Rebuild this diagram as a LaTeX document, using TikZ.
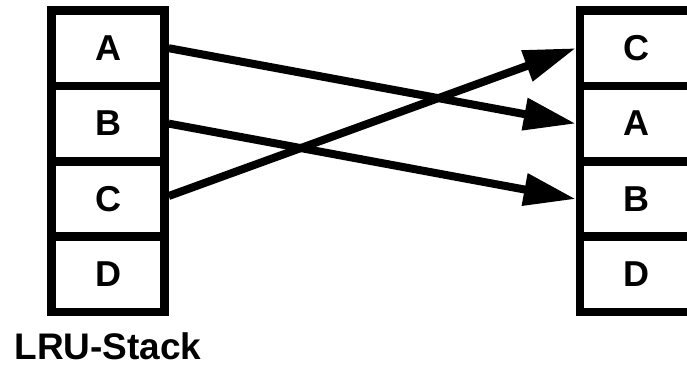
\documentclass[tikz,border=0pt]{standalone}
\usepackage{fontspec}
\setmainfont{Liberation Sans}
\usetikzlibrary{arrows.meta}
\newcommand{\celltext}[1]{\raisebox{-2pt}{#1}}
\begin{document}
\begin{tikzpicture}[x=1pt,y=-1pt,
  cell/.style={draw,line width=8.5pt,minimum width=113pt,minimum height=75.4pt,
    inner sep=0pt,font=\bfseries\fontsize{36}{40}\selectfont},
  link/.style={line width=8pt,-{Triangle[length=52pt,width=31pt]}}]
\useasboundingbox (0,0) rectangle (687,365);
\clip (0,0) rectangle (687,365);
\node[cell] (lA) at (108,48.2) {\celltext{A}};
\node[cell] (lB) at (108,123.6) {\celltext{B}};
\node[cell] (lC) at (108,199.0) {\celltext{C}};
\node[cell] (lD) at (108,274.4) {\celltext{D}};
\node[cell] (rC) at (636.5,48.2) {\celltext{C}};
\node[cell] (rA) at (636.5,123.6) {\celltext{A}};
\node[cell] (rB) at (636.5,199.0) {\celltext{B}};
\node[cell] (rD) at (636.5,274.4) {\celltext{D}};
\node[font=\bfseries\fontsize{37}{40}\selectfont,anchor=base,inner sep=0pt] (lbl) at (108,359) {LRU-Stack};
\draw[link] (lA.east) -- (rA.west);
\draw[link] (lB.east) -- (rB.west);
\draw[link] ([yshift=3pt]lC.east) -- (rC.west);
\end{tikzpicture}
\end{document}
